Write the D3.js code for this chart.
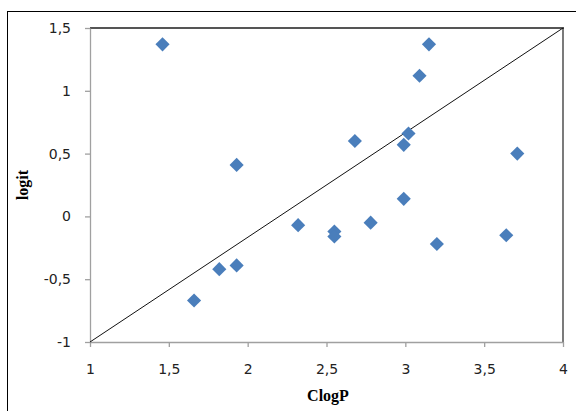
<!DOCTYPE html>
<html>
<head>
<meta charset="utf-8">
<script src="https://cdn.jsdelivr.net/npm/d3@7"></script>
<style>
  body { margin: 0; background: #fff; }
  svg { display: block; }
</style>
</head>
<body>
<div id="vis"></div>
<script>
var WIDTH = 576
var HEIGHT = 411

// data
var clogP = [1.46, 1.66, 1.82, 1.93, 1.93, 2.68, 2.32, 2.55, 2.55, 2.78, 3.15, 3.09, 3.02, 2.99, 3.71, 2.99, 3.20, 3.64];
var logit = [1.37, -0.67, -0.42, -0.39, 0.41, 0.60, -0.07, -0.12, -0.16, -0.05, 1.37, 1.12, 0.66, 0.57, 0.50, 0.14, -0.22, -0.15];
var xTicks = [1, 1.5, 2, 2.5, 3, 3.5, 4];
var yTicks = [-1, -0.5, 0, 0.5, 1, 1.5];
var diagX = [1, 4];
var diagY = [-1, 1.5];

var locale = d3.formatLocale({ decimal: ",", thousands: ".", grouping: [3], currency: ["", ""], minus: "-" });
var fmt = locale.format("");

var plotLeft = 90, plotRight = 563, plotTop = 28, plotBottom = 342;

var x = d3.scaleLinear().domain([1, 4]).range([plotLeft, plotRight]);
var y = d3.scaleLinear().domain([-1, 1.5]).range([plotBottom, plotTop]);

const svg = d3.select('#vis').append('svg')
    .attr('width', WIDTH)
    .attr('height', HEIGHT);

// outer chart frame
svg.append('rect')
    .attr('x', 7.5).attr('y', 11.5)
    .attr('width', WIDTH).attr('height', HEIGHT)
    .attr('fill', 'none')
    .attr('stroke', '#000')
    .attr('stroke-width', 1);

// plot area border (top & right dark)
svg.append('line')
    .attr('x1', plotLeft).attr('x2', plotRight + 1)
    .attr('y1', plotTop).attr('y2', plotTop)
    .attr('stroke', '#555').attr('stroke-width', 2);
svg.append('line')
    .attr('x1', plotRight).attr('x2', plotRight)
    .attr('y1', plotTop).attr('y2', plotBottom)
    .attr('stroke', '#222').attr('stroke-width', 1.2);

// axes
var xAxis = d3.axisBottom(x).tickValues(xTicks).tickFormat(fmt).tickSizeInner(5).tickSizeOuter(0).tickPadding(17);
var yAxis = d3.axisLeft(y).tickValues(yTicks).tickFormat(fmt).tickSizeInner(5).tickSizeOuter(0).tickPadding(14);

var gx = svg.append('g').attr('transform', 'translate(0,' + plotBottom + ')').call(xAxis);
var gy = svg.append('g').attr('transform', 'translate(' + plotLeft + ',0)').call(yAxis);

[gx, gy].forEach(g => {
    g.select('.domain').attr('stroke', '#a0a0a0').attr('stroke-width', 1.3);
    g.selectAll('.tick line').attr('stroke', '#a0a0a0').attr('stroke-width', 1.3);
    g.selectAll('.tick text')
        .attr('fill', '#222')
        .style('font-family', 'DejaVu Sans, Verdana, sans-serif')
        .style('font-size', '14px');
});

// diagonal reference line
svg.append('line')
    .attr('x1', x(diagX[0])).attr('y1', y(diagY[0]))
    .attr('x2', x(diagX[1])).attr('y2', y(diagY[1]))
    .attr('stroke', '#111')
    .attr('stroke-width', 1);

// points
var diamond = d3.symbol().type(d3.symbolSquare).size(100);
svg.append('g').selectAll('path')
    .data(clogP.map((v, i) => [v, logit[i]]))
    .enter()
    .append('path')
    .attr('d', diamond)
    .attr('transform', d => 'translate(' + x(d[0]) + ',' + y(d[1]) + ') rotate(45)')
    .attr('fill', '#4a7ebb');

// axis titles
svg.append('text')
    .attr('x', 328).attr('y', 401)
    .attr('text-anchor', 'middle')
    .style('font-family', 'Liberation Serif, Times New Roman, serif')
    .style('font-weight', 'bold')
    .style('font-size', '16px')
    .text('ClogP');

svg.append('text')
    .attr('transform', 'translate(28,185) rotate(-90)')
    .attr('text-anchor', 'middle')
    .style('font-family', 'Liberation Serif, Times New Roman, serif')
    .style('font-weight', 'bold')
    .style('font-size', '16px')
    .text('logit');
</script>
</body>
</html>
